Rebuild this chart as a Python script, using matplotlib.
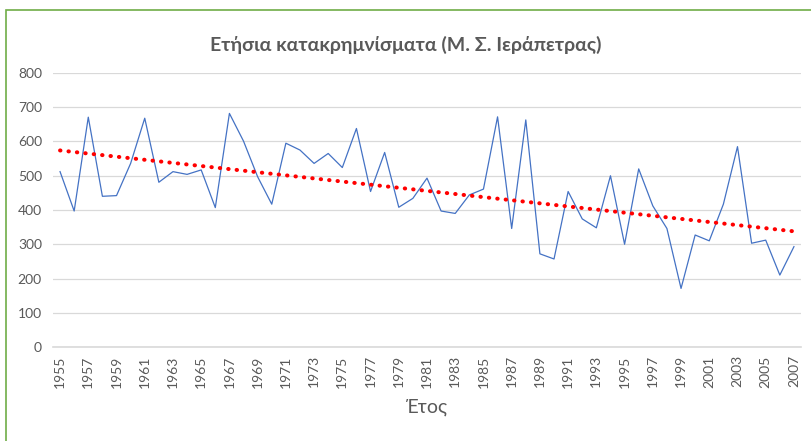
import numpy as np
import matplotlib.pyplot as plt
from matplotlib.patches import Rectangle

# ---------- Data ----------
years = list(range(1955, 2008))
rain = [512, 397, 671, 440, 442, 536, 668, 481, 512, 504,
        517, 407, 682, 601, 497, 417, 595, 575, 536, 565,
        524, 638, 454, 568, 408, 434, 493, 397, 390, 444,
        461, 672, 346, 663, 272, 257, 454, 374, 348, 500,
        300, 520, 412, 346, 171, 327, 310, 417, 585, 303,
        312, 210, 293]
tick_years = years[::2]

# linear trend
coef = np.polyfit(years, rain, 1)
trend = np.polyval(coef, years)

grey = '#595959'
plt.rcParams['font.family'] = ['Lato', 'DejaVu Sans']

fig = plt.figure(figsize=(8.11, 4.41), dpi=100)
ax = fig.add_axes([53 / 811, 1 - 347 / 441, 748 / 811, 274 / 441])

ax.plot(years, rain, color='#4472c4', linewidth=0.9)
ax.plot(years, trend, color='#ff0000', linewidth=2.9, linestyle=(0, (0.1, 2.0)),
        dash_capstyle='round')

ax.set_xlim(1954.5, 2007.5)
ax.set_ylim(0, 800)
ax.set_yticks(range(0, 801, 100))
ax.set_xticks(tick_years)
ax.set_xticklabels([str(y) for y in tick_years], rotation=90, fontsize=10,
                   color=grey)
ax.tick_params(axis='y', labelsize=10, colors=grey, length=0, pad=8)
ax.tick_params(axis='x', length=0, pad=6)
ax.grid(axis='y', color='#d9d9d9', linewidth=0.9)
for s in ['top', 'right', 'left']:
    ax.spines[s].set_visible(False)
ax.spines['bottom'].set_color('#d9d9d9')
ax.spines['bottom'].set_linewidth(1.2)
ax.set_axisbelow(True)

ax.set_xlabel('Έτος', fontsize=14, color=grey, labelpad=8)
fig.text(0.5, 1 - 45 / 441, 'Ετήσια κατακρημνίσματα (Μ. Σ. Ιεράπετρας)',
         ha='center', va='center', fontsize=14, fontweight='bold', color=grey)

# green chart border (cropped on right and bottom)
fig.patches.append(Rectangle((6 / 811, -0.1), 1.1, 1 - 10 / 441 + 0.1,
                             transform=fig.transFigure, fill=False,
                             edgecolor='#70ad47', linewidth=1.2))

fig.savefig('out.png', dpi=100)
